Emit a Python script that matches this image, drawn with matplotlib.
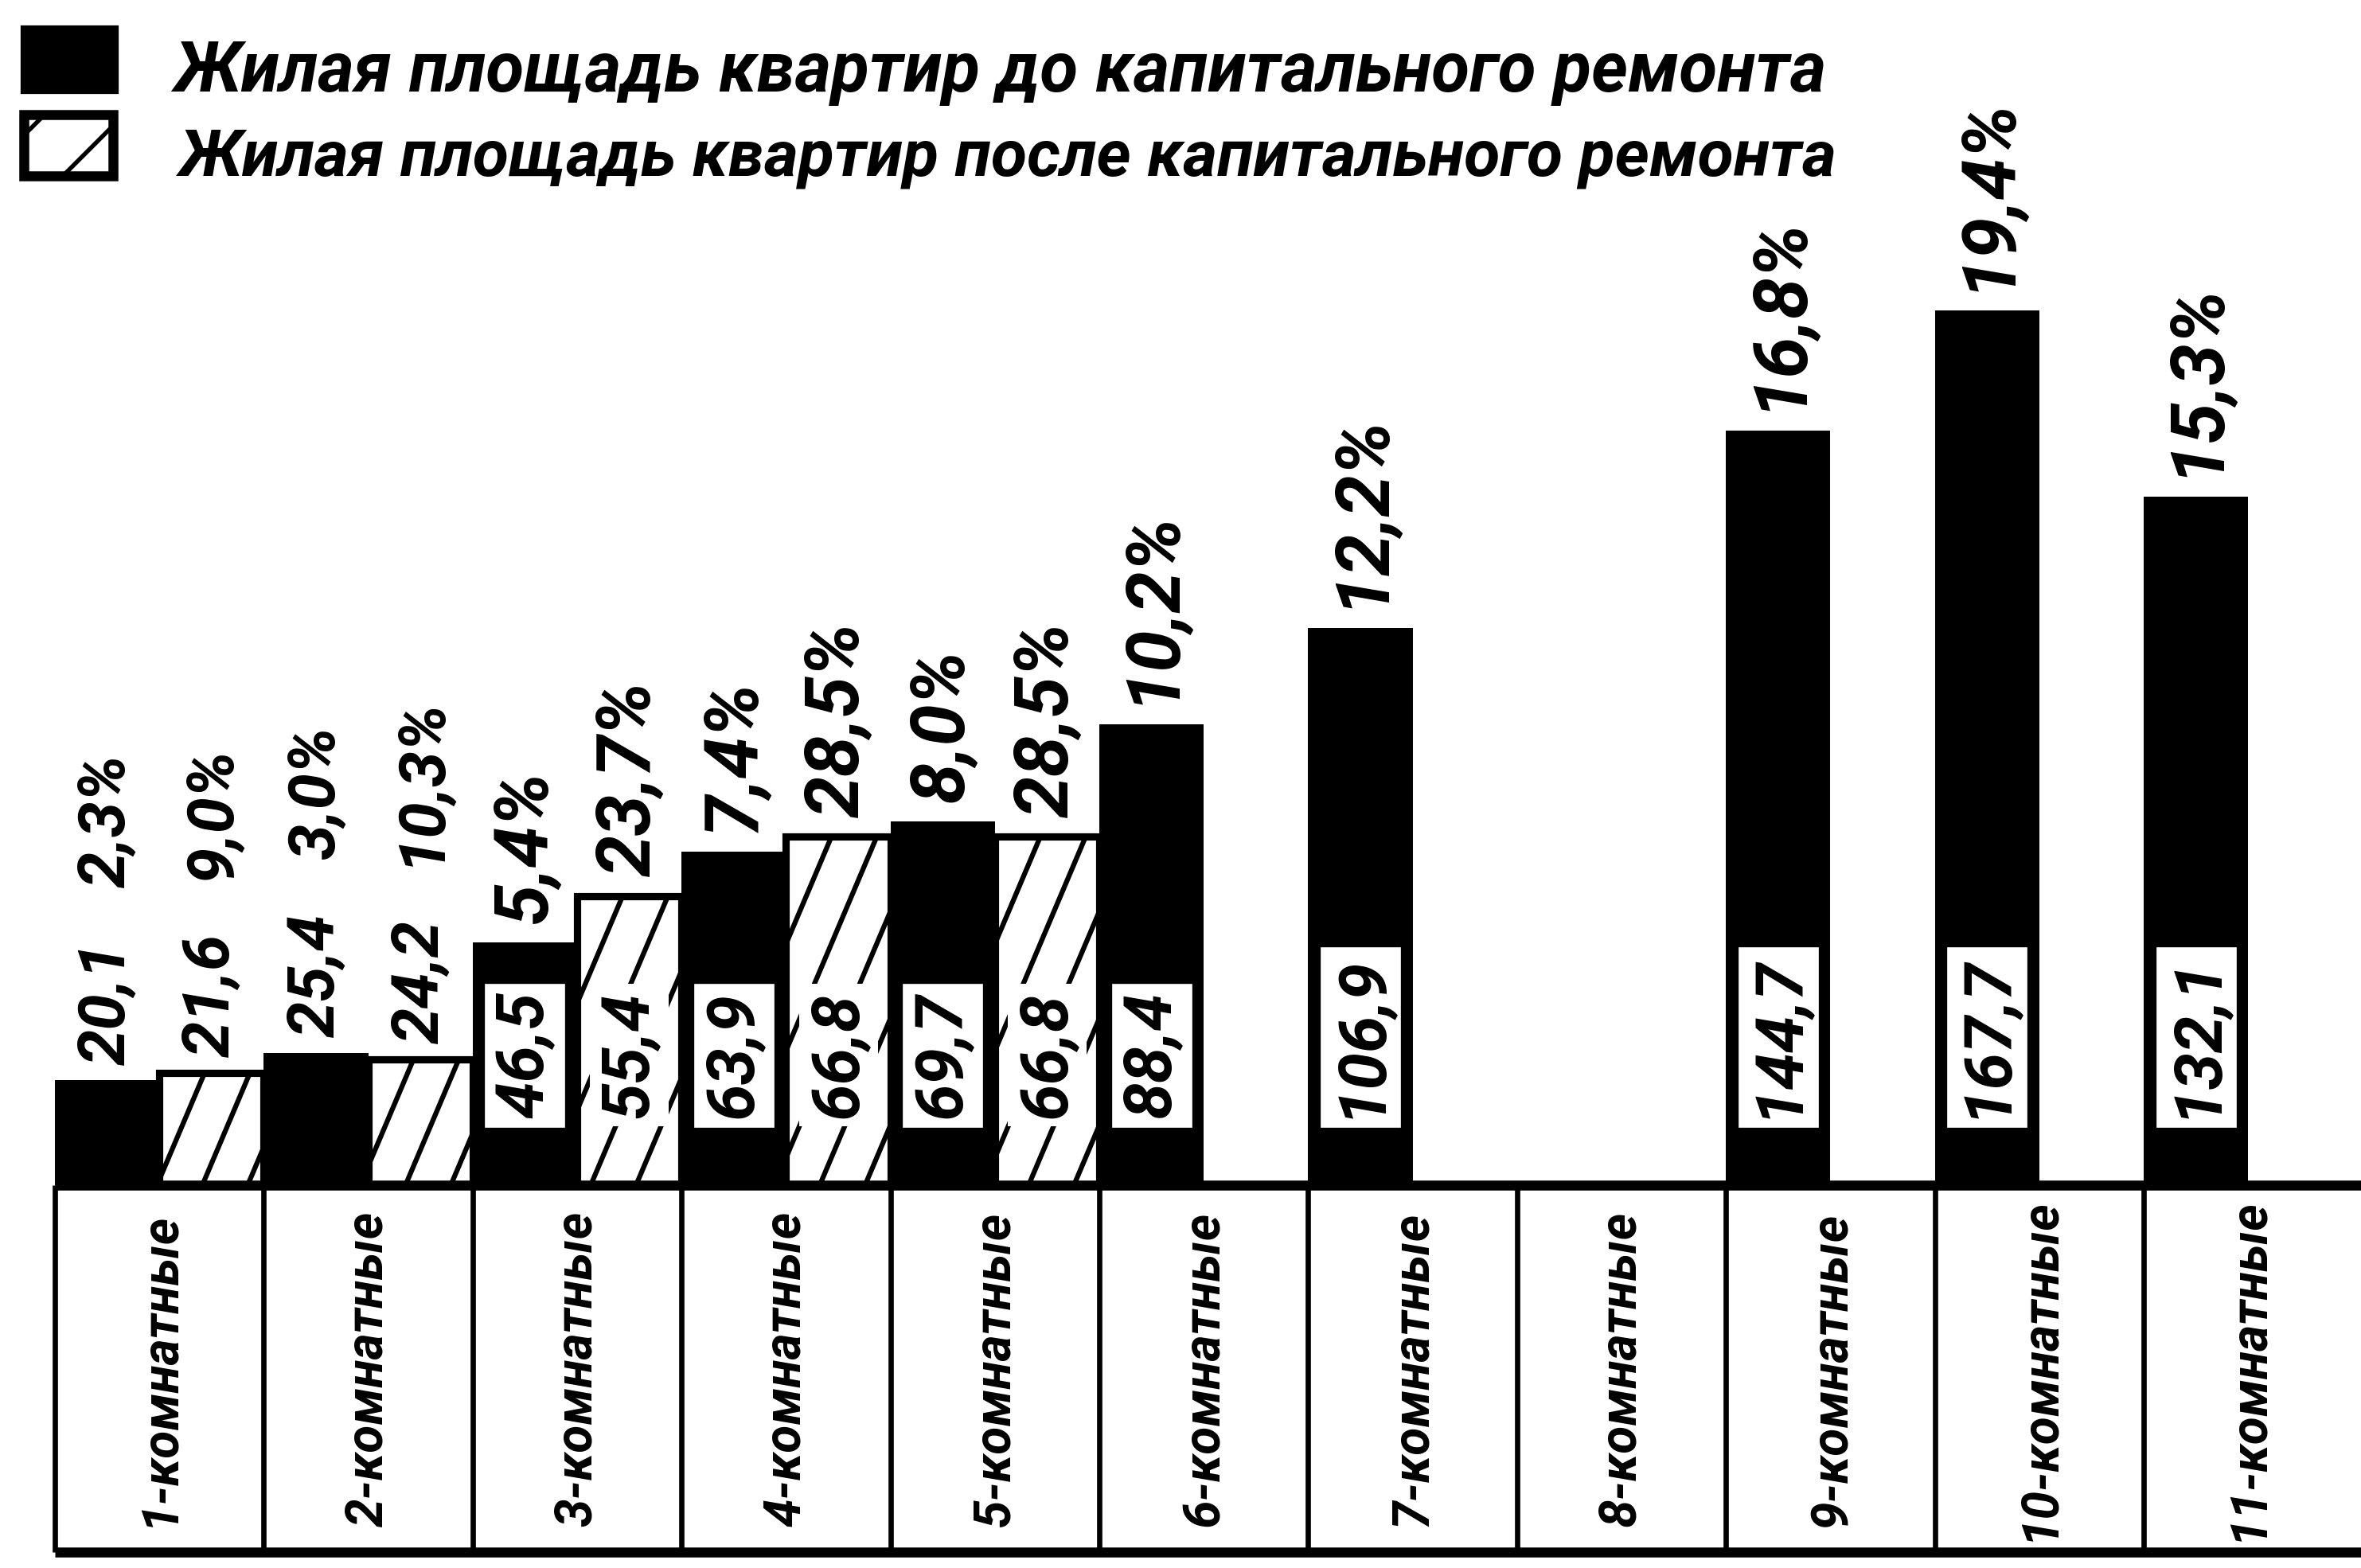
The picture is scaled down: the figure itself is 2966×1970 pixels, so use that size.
import numpy as np
import matplotlib
matplotlib.use("Agg")
import matplotlib.pyplot as plt
from matplotlib.patches import Rectangle

# шрифт: узкий курсив, как в типографской диаграмме
plt.rcParams['font.family'] = ['DejaVu Sans Condensed', 'Roboto', 'DejaVu Sans']
plt.rcParams['hatch.linewidth'] = 1.3

rooms = ['1-комнатные', '2-комнатные', '3-комнатные', '4-комнатные',
         '5-комнатные', '6-комнатные', '7-комнатные', '8-комнатные',
         '9-комнатные', '10-комнатные', '11-комнатные']

# жилая площадь, кв. м, и доля, %
area_before = [20.1, 25.4, 46.5, 63.9, 69.7, 88.4, 106.9, np.nan, 144.7, 167.7, 132.1]
share_before = [2.3, 3.0, 5.4, 7.4, 8.0, 10.2, 12.2, np.nan, 16.8, 19.4, 15.3]
area_after = [21.6, 24.2, 55.4, 66.8, 66.8, np.nan, np.nan, np.nan, np.nan, np.nan, np.nan]
share_after = [9.0, 10.3, 23.7, 28.5, 28.5, np.nan, np.nan, np.nan, np.nan, np.nan, np.nan]

legend_labels = ['Жилая площадь квартир до капитального ремонта',
                 'Жилая площадь квартир после капитального ремонта']


def fmt(v):
    return f"{v:.1f}".replace('.', ',')


fig = plt.figure(figsize=(2966 / 300, 1970 / 300), dpi=300)
ax = fig.add_axes([0, 0, 1, 1])
ax.set_xlim(-0.763, 10.54)
ax.set_ylim(-73.4, 227.3)
ax.axis('off')

x = np.arange(len(rooms))
before = np.array(area_before, dtype=float)
after = np.array(area_after, dtype=float)

# столбики
m_b = ~np.isnan(before)
m_a = ~np.isnan(after)
ax.bar(x[m_b] - 0.25, before[m_b], width=0.5, color='black', zorder=2)
hatched = ax.bar(x[m_a] + 0.25, after[m_a], width=0.5, facecolor='white',
                 edgecolor='black', lw=2.2, zorder=2)

# крутая косая штриховка, обрезанная по контуру столбика
slope = 94.5     # подъём по y на единицу x
step = 0.217     # шаг штрихов по x
for p in hatched.patches:
    x0, w, h = p.get_x(), p.get_width(), p.get_height()
    for xs in np.arange(x0 - h / slope, x0 + w, step):
        ln, = ax.plot([xs, xs + h / slope], [0, h], color='black', lw=1.5,
                      solid_capstyle='butt', zorder=2.5)
        ln.set_clip_path(p)

# таблица подписей под столбиками
table_bottom = -70.4
xr = ax.get_xlim()[1]
ax.hlines(0, -0.5, xr, color='black', lw=3, zorder=3)
ax.hlines(table_bottom, -0.5, xr, color='black', lw=3, zorder=3)
ax.vlines(x - 0.5, table_bottom, 0, color='black', lw=1.6, zorder=3)
for i, name in enumerate(rooms):
    ax.text(i, table_bottom / 2, name, rotation=90, ha='center', va='center',
            fontsize=15.3, style='italic', weight='bold')

txt = dict(rotation=90, rotation_mode='anchor', style='italic', weight='bold')


def put_labels(xc, area, share, is_hatched):
    if area < 30:
        # маленькие столбики: площадь и доля над столбиком
        ax.text(xc, area + 3, fmt(area), ha='left', va='center', fontsize=19.5, **txt)
        ax.text(xc, area + 37, fmt(share) + '%', ha='left', va='center', fontsize=19.5, **txt)
    else:
        if is_hatched:
            box = dict(boxstyle='square,pad=0.12', fc='white', ec='none')
        else:
            box = dict(boxstyle='square,pad=0.15', fc='white', ec='black', lw=0.8)
        ax.text(xc, 12.8, fmt(area), ha='left', va='center', fontsize=20,
                bbox=box, zorder=4, **txt)
        ax.text(xc, area + 3.8, fmt(share) + '%', ha='left', va='center', fontsize=22.5, **txt)


for i in x:
    if m_b[i]:
        put_labels(i - 0.25, before[i], share_before[i], False)
    if m_a[i]:
        put_labels(i + 0.25, after[i], share_after[i], True)

# легенда
fig.patches.append(Rectangle((0.0098, 0.9416), 0.0394, 0.0406, transform=fig.transFigure,
                             facecolor='black', edgecolor='black', lw=1.5))
fig.patches.append(Rectangle((0.0100, 0.8880), 0.0378, 0.0390, transform=fig.transFigure,
                             facecolor='white', edgecolor='black', hatch='/', lw=3))
fig.text(0.0735, 0.9416, legend_labels[0], ha='left', va='baseline', fontsize=21,
         style='italic', weight='bold')
fig.text(0.0760, 0.8883, legend_labels[1], ha='left', va='baseline', fontsize=19.8,
         style='italic', weight='bold')

fig.savefig('out.png', dpi=300, facecolor='white')
